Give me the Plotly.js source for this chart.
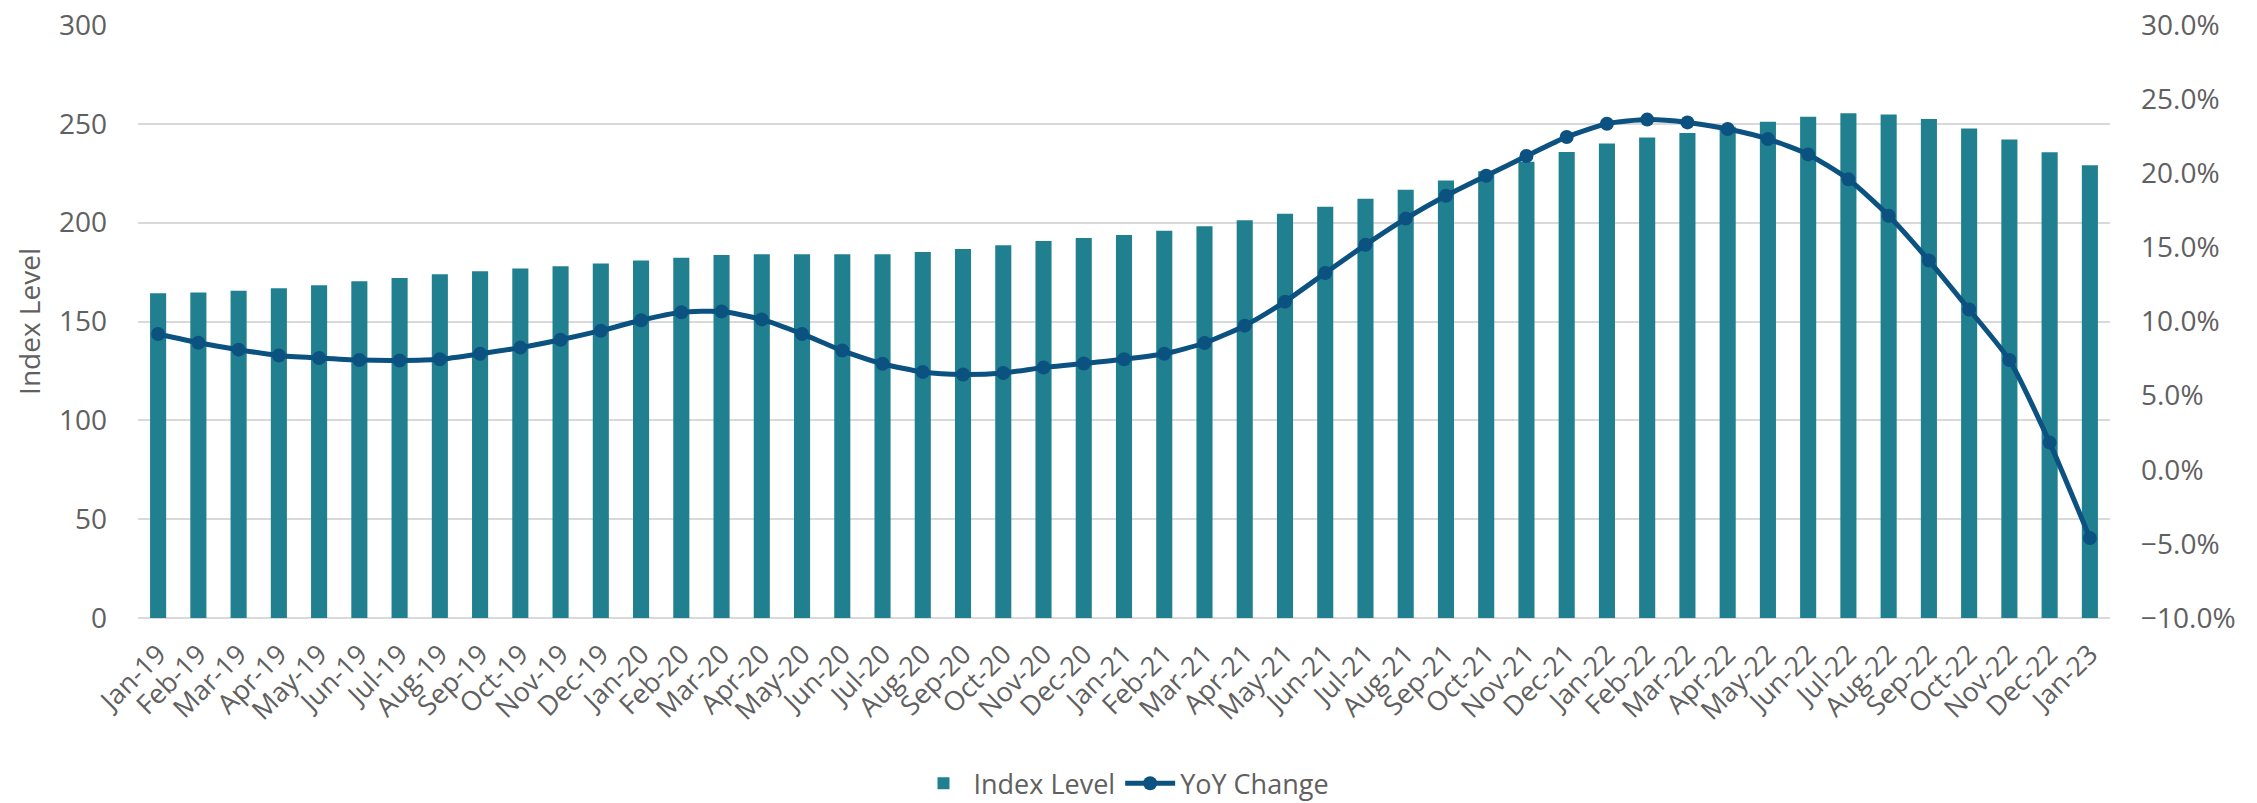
<!DOCTYPE html>
<html>
<head>
<meta charset="utf-8">
<script src="https://cdn.plot.ly/plotly-3.0.1.min.js"></script>
<style>
  html, body { margin: 0; padding: 0; background: #ffffff; }
  #chart { width: 2257px; height: 803px; }
</style>
</head>
<body>
<div id="chart"></div>
<script>
const months = [
  "Jan-19","Feb-19","Mar-19","Apr-19","May-19","Jun-19","Jul-19","Aug-19","Sep-19","Oct-19","Nov-19","Dec-19",
  "Jan-20","Feb-20","Mar-20","Apr-20","May-20","Jun-20","Jul-20","Aug-20","Sep-20","Oct-20","Nov-20","Dec-20",
  "Jan-21","Feb-21","Mar-21","Apr-21","May-21","Jun-21","Jul-21","Aug-21","Sep-21","Oct-21","Nov-21","Dec-21",
  "Jan-22","Feb-22","Mar-22","Apr-22","May-22","Jun-22","Jul-22","Aug-22","Sep-22","Oct-22","Nov-22","Dec-22",
  "Jan-23"
];

const indexLevel = [
  164.3, 164.7, 165.5, 166.8, 168.4, 170.3, 172.0, 173.9, 175.4, 176.8, 177.9, 179.4,
  180.8, 182.3, 183.6, 184.0, 184.0, 184.0, 184.0, 185.2, 186.7, 188.6, 190.7, 192.2,
  193.8, 195.9, 198.2, 201.2, 204.5, 208.1, 212.1, 216.7, 221.3, 226.0, 230.8, 235.8,
  240.0, 243.1, 245.4, 248.5, 251.1, 253.6, 255.3, 254.7, 252.4, 247.7, 242.1, 235.6,
  229.1
];

const yoyChange = [
  0.0916, 0.0857, 0.0810, 0.0771, 0.0754, 0.0740, 0.0737, 0.0745, 0.0782, 0.0824, 0.0877, 0.0938,
  0.1008, 0.1062, 0.1067, 0.1014, 0.0916, 0.0804, 0.0715, 0.0659, 0.0642, 0.0653, 0.0690, 0.0717,
  0.0745, 0.0782, 0.0855, 0.0972, 0.1134, 0.1327, 0.1517, 0.1694, 0.1848, 0.1983, 0.2116, 0.2245,
  0.2334, 0.2362, 0.2343, 0.2298, 0.2231, 0.2127, 0.1959, 0.1713, 0.1411, 0.1081, 0.0740, 0.0183,
  -0.0460
];

const barColor = "#21808f";
const lineColor = "#0b5281";
const textColor = "#606060";
const fontFamily = "'Open Sans', 'Noto Sans', sans-serif";

const traces = [
  {
    type: "bar",
    name: "Index Level",
    x: months,
    y: indexLevel,
    marker: { color: barColor, line: { width: 0 } },
    yaxis: "y",
    hoverinfo: "x+y"
  },
  {
    type: "scatter",
    mode: "lines+markers",
    name: "YoY Change",
    x: months,
    y: yoyChange,
    yaxis: "y2",
    line: { color: lineColor, width: 5, shape: "spline", smoothing: 0.6 },
    marker: { color: lineColor, size: 14 }
  }
];

const layout = {
  width: 2257,
  height: 803,
  margin: { l: 138, r: 147, t: 25, b: 185, pad: 0 },
  paper_bgcolor: "#ffffff",
  plot_bgcolor: "#ffffff",
  font: { family: fontFamily, size: 27, color: textColor },
  bargap: 0.6,
  showlegend: true,
  legend: {
    orientation: "h",
    x: 0.5,
    xanchor: "center",
    yref: "container",
    y: 0.024,
    yanchor: "middle",
    font: { family: fontFamily, size: 27, color: textColor },
    itemwidth: 50,
    tracegroupgap: 0
  },
  xaxis: {
    type: "category",
    range: [-0.5, 48.5],
    tickangle: -45,
    ticks: "",
    showgrid: false,
    showline: false,
    zeroline: false,
    tickfont: { family: fontFamily, size: 27, color: textColor },
    ticklabelstandoff: 14,
    automargin: false
  },
  yaxis: {
    range: [0, 300],
    dtick: 50,
    tick0: 0,
    showgrid: true,
    gridcolor: "#d9d9d9",
    gridwidth: 2,
    zeroline: true,
    zerolinecolor: "#d9d9d9",
    zerolinewidth: 2,
    showline: false,
    ticks: "",
    ticklabelstandoff: 30,
    tickfont: { family: fontFamily, size: 28, color: textColor },
    title: { text: "Index Level", font: { family: fontFamily, size: 28, color: textColor }, standoff: 10 },
    automargin: false
  },
  yaxis2: {
    overlaying: "y",
    side: "right",
    range: [-0.10, 0.30],
    dtick: 0.05,
    tick0: 0,
    tickformat: ".1%",
    showgrid: false,
    zeroline: false,
    showline: false,
    ticks: "",
    ticklabelstandoff: 30,
    tickfont: { family: fontFamily, size: 28, color: textColor },
    automargin: false
  }
};

Plotly.newPlot("chart", traces, layout, { displayModeBar: false, responsive: false });
</script>
</body>
</html>
